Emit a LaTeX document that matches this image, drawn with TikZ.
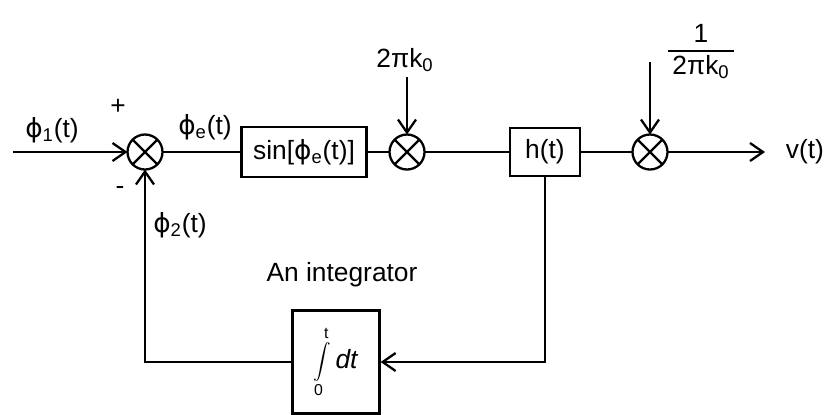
\documentclass[tikz,border=0pt]{standalone}
\usepackage{fontspec}
\setmainfont{Liberation Sans}
\newfontfamily\djv{DejaVu Sans}
\newcommand{\myphi}{{\djv ϕ}}
\usetikzlibrary{arrows.meta,calc}
\setlength{\arrayrulewidth}{1pt}
\begin{document}
\begin{tikzpicture}[x=0.02cm,y=-0.02cm,
  line width=1.3pt,
  font=\fontsize{15}{18}\selectfont,
  lbl/.style={inner sep=1pt},
  blk/.style={draw, inner sep=2pt},
  mult/.style={draw, circle, minimum size=0.7cm, inner sep=0pt, outer sep=0pt},
  arr/.style={-{Straight Barb[length=2.6mm,width=3.6mm]}}]
\useasboundingbox (0,0) rectangle (831,414);

% main chain
\coordinate (in) at (13,152);
\node[mult] (s1) at (145,152) {};
\node[blk, minimum width=2.5cm, minimum height=1cm] (sin) at (304,152) {sin[\myphi\textsubscript{e}(t)]};
\node[mult] (m2) at (407,152) {};
\node[blk, minimum width=1.4cm, minimum height=0.96cm] (h) at (545,152) {h(t)};
\node[mult] (m3) at (650,152) {};
\coordinate (out) at (765,152);
\node[lbl, anchor=west] (vt) at (783,152) {v(t)};

% integrator
\node[blk, minimum width=1.74cm, minimum height=2.06cm] (int) at (336,362)
  {$\displaystyle\int\limits_{\mbox{\fontsize{9}{9}\selectfont 0}}^{\mbox{\fontsize{9}{9}\selectfont t}}$\,\textit{dt}};
\coordinate (c1) at (545,362);
\coordinate (c2) at (145,362);

% gains
\node[lbl] (k) at (405,60) {2πk\textsubscript{0}};
\coordinate (ka) at (407,77);
\node[lbl] (frac) at (701,52) {\begin{tabular}{@{\,}c@{\,}}1\\[-1pt]\hline 2πk\textsubscript{0}\end{tabular}};
\coordinate (fa) at (650,62);

% labels
\node[lbl] (p1) at (52,130) {\myphi\textsubscript{1}(t)};
\node[lbl] (plus) at (118,107) {+};
\node[lbl] (minus) at (120,190) {-};
\node[lbl] (pe) at (205,127) {\myphi\textsubscript{e}(t)};
\node[lbl] (p2) at (180,225) {\myphi\textsubscript{2}(t)};
\node[lbl] (intl) at (342,275) {An integrator};

% connectors
\draw[arr] (in) -- (s1);
\draw (s1) -- (sin);
\draw (sin) -- (m2);
\draw (m2) -- (h);
\draw (h) -- (m3);
\draw[arr] (m3) -- (out);
\draw[arr] (ka) -- (m2);
\draw[arr] (fa) -- (m3);
\draw[arr] (h.south) -- (c1) -- (int.east);
\draw[arr] (int.west) -- (c2) -- (s1.south);

% crosses in multipliers
\foreach \m in {s1,m2,m3}
  \draw (\m.north west) -- (\m.south east) (\m.north east) -- (\m.south west);
\end{tikzpicture}
\end{document}
